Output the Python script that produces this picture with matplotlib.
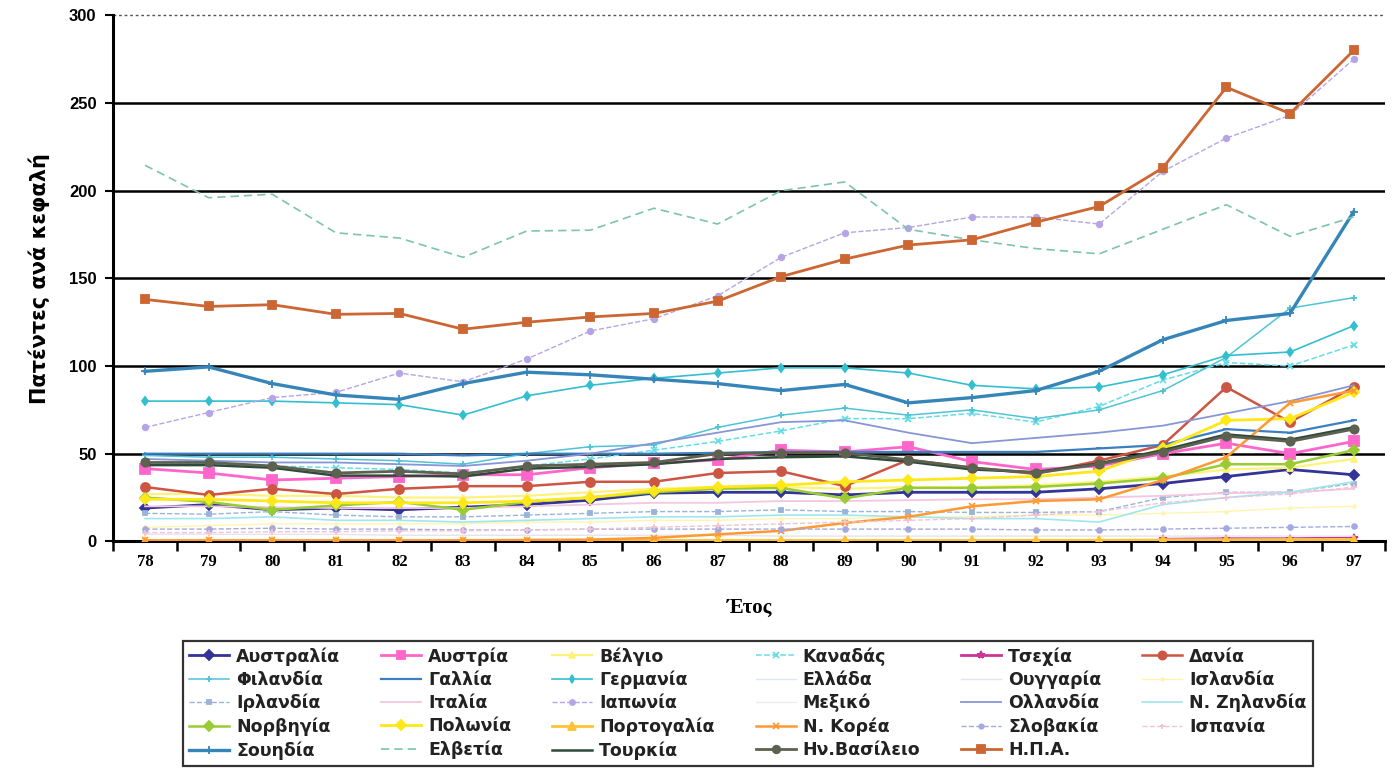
import numpy as np
import matplotlib
matplotlib.use('Agg')
import matplotlib.pyplot as plt

# Patents per head, OECD countries, 1978-1997
years = ['78', '79', '80', '81', '82', '83', '84', '85', '86', '87',
         '88', '89', '90', '91', '92', '93', '94', '95', '96', '97']
nan = np.nan

australia = [19, 21, 18, 19, 18, 19.5, 21, 23.5, 27.5, 28, 28, 26.5, 28, 28, 28, 30, 33, 37, 41, 38]
austria = [41.5, 39, 35, 36, 37, 38, 38, 42, 44.5, 46.5, 52, 51, 54, 45.5, 41, 43, 50, 56, 50, 57]
belgium = [27, 27, 26, 26, 25, 25, 26, 28, 30, 31, 31, 30, 31, 31, 32, 34, 37, 41, 42, 47]
canada = [45, 44, 43, 42, 41, 39, 43, 47, 52, 57, 63, 70, 70, 73, 68, 77, 92, 102, 100, 112]
czechia = [nan] * 16 + [1.2, 1.5, 1.5, 2]
denmark = [31, 26.5, 30, 27, 30, 31.5, 31.5, 34, 34, 39, 40, 31.5, 46.5, 42, 38.5, 46, 55, 88, 68, 88]
finland = [49, 48, 48, 47, 46, 44, 50, 54, 55, 65, 72, 76, 72, 75, 70, 75, 86, 105, 133, 139]
france = [50, 50, 50, 50, 50, 49, 50, 50, 50, 50.5, 51, 51, 51, 51, 51, 53, 55, 64, 62, 69]
germany = [80, 80, 80, 79, 78, 72, 83, 89, 93, 96, 99, 99, 96, 89, 87, 88, 95, 106, 108, 123]
greece = [0.8, 0.8, 0.8, 0.8, 0.8, 0.8, 0.9, 0.9, 0.9, 0.9, 1, 1, 1, 1, 1, 1, 1.2, 1.2, 1.3, 1.4]
hungary = [4, 4, 4, 4, 3.5, 3.5, 3.5, 3.5, 3.5, 3.5, 3, 3, 3, 3, 3, 3, 3, 3, 3, 3]
iceland = [8, 9, 10, 10, 10, 10, 11, 11, 12, 12, 13, 13, 14, 14, 15, 15, 16, 17, 19, 20]
ireland = [16, 15.5, 17, 15, 14, 14, 15, 16, 17, 17, 18, 17, 17, 16.5, 16.5, 17, 25, 28, 28, 33]
italy = [20, 20, 19.5, 19, 19, 19, 20, 21, 22, 22, 23, 23, 23.5, 24, 24, 25, 26, 27.5, 28, 30]
japan = [65, 73.5, 82, 85, 96, 91, 104, 120, 127, 140, 162, 176, 179, 185, 185, 181, 211, 230, 243, 275]
mexico = [0.3, 0.3, 0.3, 0.3, 0.3, 0.3, 0.3, 0.3, 0.3, 0.3, 0.3, 0.3, 0.3, 0.3, 0.3, 0.3, 0.3, 0.3, 0.3, 0.3]
netherlands = [47, 46, 45, 45, 44, 43, 46, 50, 56, 62, 68, 69, 62, 56, 59, 62, 66, 73, 80, 89]
new_zealand = [13, 13, 14, 12, 12, 11, 12, 13, 14, 14, 15, 15, 14, 13, 13, 11, 21, 25, 28, 34]
norway = [25, 22.5, 18, 20.5, 22.5, 18, 22.5, 25, 28, 30, 30.5, 24.5, 30.5, 30.5, 31, 33, 36, 44, 44, 52]
poland = [24, 24, 23, 22, 22, 22, 23, 25, 29, 31, 32, 34, 35, 36, 37, 40, 53, 69, 70, 85]
portugal = [0.4, 0.4, 0.4, 0.4, 0.4, 0.4, 0.4, 0.4, 0.5, 0.5, 0.5, 0.5, 0.5, 0.5, 0.6, 0.6, 0.7, 0.8, 0.9, 1.0]
korea = [0.5, 0.5, 0.5, 0.5, 0.5, 0.6, 0.8, 1, 2, 4, 6, 10.5, 14, 20, 23, 24, 35, 48, 79, 86]
slovakia = [7, 7, 7.5, 7, 7, 6.5, 6.5, 7, 7, 7, 7, 7, 7, 7, 6.5, 6.5, 7, 7.5, 8, 8.5]
spain = [5, 5, 5.5, 5.5, 6, 6, 6.5, 7, 8, 9, 10, 11, 12, 13, 15, 17, 22, 25, 27, 31]
sweden = [97, 99.5, 90, 83.5, 81, 90, 96.5, 95, 92.5, 90, 86, 89.5, 79, 82, 86, 97, 115, 126, 130, 188]
switzerland = [214.5, 196, 198, 176, 173, 162, 177, 177.5, 190, 181, 200, 205, 178, 172, 167, 164, 178, 192, 174, 185]
turkey = [43.5, 43.5, 42, 37.5, 37.5, 37, 41.5, 42.5, 44, 47, 48, 48.5, 45.5, 41, 39.5, 44.5, 52, 61, 58, 65]
uk = [45, 45, 43, 39, 40, 38.5, 43, 44, 45, 50, 50.5, 50.5, 46.5, 42, 39, 44, 51, 60, 57, 64]
usa = [138, 134, 135, 129.5, 130, 121, 125, 128, 130, 137, 151, 161, 169, 172, 182, 191, 213, 259, 244, 280]

# (label, values, colour, marker, markersize, linewidth, linestyle)
series = [
    ('Αυστραλία', australia, '#333399', 'D', 5.5, 2.0, '-'),
    ('Αυστρία', austria, '#ff66cc', 's', 6.5, 2.0, '-'),
    ('Βέλγιο', belgium, '#fff27a', '^', 5, 1.6, '-'),
    ('Καναδάς', canada, '#66dce6', 'x', 4.5, 1.1, '--'),
    ('Τσεχία', czechia, '#cc3399', '*', 6, 2.0, '-'),
    ('Δανία', denmark, '#cc5544', 'o', 6.5, 1.8, '-'),
    ('Φιλανδία', finland, '#4fc4d6', '+', 5, 1.1, '-'),
    ('Γαλλία', france, '#3a7fc0', '_', 5, 1.6, '-'),
    ('Γερμανία', germany, '#33bfd0', 'd', 4.5, 1.2, '-'),
    ('Ελλάδα', greece, '#dde9f2', None, 4, 1.0, '-'),
    ('Ουγγαρία', hungary, '#e4e4ec', None, 4, 1.0, '-'),
    ('Ισλανδία', iceland, '#fff5b0', '.', 4, 1.0, '-'),
    ('Ιρλανδία', ireland, '#9bb3d8', 's', 3.5, 1.0, '--'),
    ('Ιταλία', italy, '#f5c6e0', None, 4, 1.3, '-'),
    ('Ιαπωνία', japan, '#b5a5e6', 'o', 4, 1.0, '--'),
    ('Μεξικό', mexico, '#ececec', None, 4, 1.0, '-'),
    ('Ολλανδία', netherlands, '#8796d6', None, 4, 1.3, '-'),
    ('Ν. Ζηλανδία', new_zealand, '#9fe6ef', None, 4, 1.2, '-'),
    ('Νορβηγία', norway, '#99cc33', 'D', 5.5, 1.8, '-'),
    ('Πολωνία', poland, '#ffe81a', 'D', 5.5, 2.0, '-'),
    ('Πορτογαλία', portugal, '#ffc233', '^', 6, 2.0, '-'),
    ('Ν. Κορέα', korea, '#ff9933', 'x', 5, 1.8, '-'),
    ('Σλοβακία', slovakia, '#a4aae0', 'o', 3.5, 1.0, '--'),
    ('Ισπανία', spain, '#f0c4d6', '+', 4, 1.0, '--'),
    ('Σουηδία', sweden, '#3585b8', '+', 6, 2.4, '-'),
    ('Ελβετία', switzerland, '#7cc4b0', None, 4, 1.2, (0, (5, 3))),
    ('Τουρκία', turkey, '#2e4a3a', None, 4, 1.8, '-'),
    ('Ην.Βασίλειο', uk, '#5c6150', 'o', 6, 2.0, '-'),
    ('Η.Π.Α.', usa, '#cc6633', 's', 6, 2.0, '-'),
]

fig = plt.figure(figsize=(13.98, 7.69), dpi=100)
ax = fig.add_axes([0.081, 0.296, 0.910, 0.684])

x = np.arange(len(years))
handles = []
for label, vals, col, mk, ms, lw, ls in series:
    h, = ax.plot(x, vals, color=col, marker=mk, lw=lw, ls=ls, markersize=ms,
                 markeredgewidth=1.3, label=label, zorder=3)
    handles.append(h)

ax.set_xlim(-0.5, len(years) - 0.5)
ax.set_ylim(0, 300)

# black gridlines every 50, dotted frame line on top
for g in [50, 100, 150, 200, 250]:
    ax.axhline(g, color='black', lw=1.8, zorder=2)
ax.axhline(300, color='#555555', lw=1.0, ls=(0, (2, 2)), zorder=2, clip_on=False)

for s in ['top', 'right']:
    ax.spines[s].set_visible(False)
ax.spines['left'].set_linewidth(2.2)
ax.spines['bottom'].set_linewidth(2.2)

ax.set_yticks(range(0, 301, 50))
ax.tick_params(axis='y', length=6, width=1.5, pad=6)
for t in ax.get_yticklabels():
    t.set_fontfamily('Liberation Sans')
    t.set_fontweight('bold')
    t.set_fontsize(12)

ax.set_xticks(np.arange(-0.5, len(years), 1.0))
ax.set_xticklabels([])
ax.set_xticks(x, minor=True)
ax.set_xticklabels(years, minor=True, fontfamily='Liberation Serif',
                   fontweight='bold', fontsize=12)
ax.tick_params(axis='x', which='major', length=7, width=1.8, direction='out')
ax.tick_params(axis='x', which='minor', length=0, pad=9)

ax.set_ylabel('Πατέντες ανά κεφαλή', fontfamily=['Liberation Sans Narrow', 'DejaVu Sans'],
              fontweight='bold', fontsize=15, labelpad=14)
ax.set_xlabel('Έτος', fontfamily='Liberation Serif', fontweight='bold',
              fontsize=15, labelpad=20)

# legend is read row by row: reorder for column-major filling
ncol = 6
order = []
for c in range(ncol):
    r = 0
    while r * ncol + c < len(handles):
        order.append(r * ncol + c)
        r += 1
leg = fig.legend([handles[i] for i in order], [series[i][0] for i in order],
                 ncol=ncol, loc='lower left', bbox_to_anchor=(0.131, 0.004, 0.808, 0.16),
                 mode='expand', borderaxespad=0, frameon=True, fancybox=False,
                 handlelength=2.3, handletextpad=0.4, labelspacing=0.3,
                 columnspacing=0.5, borderpad=0.35, markerscale=0.9,
                 prop={'family': 'DejaVu Sans', 'weight': 'bold', 'size': 12.5})
leg.get_frame().set_edgecolor('black')
leg.get_frame().set_linewidth(1.6)
for t in leg.get_texts():
    t.set_color('#222222')

fig.savefig('out.png', dpi=100)
